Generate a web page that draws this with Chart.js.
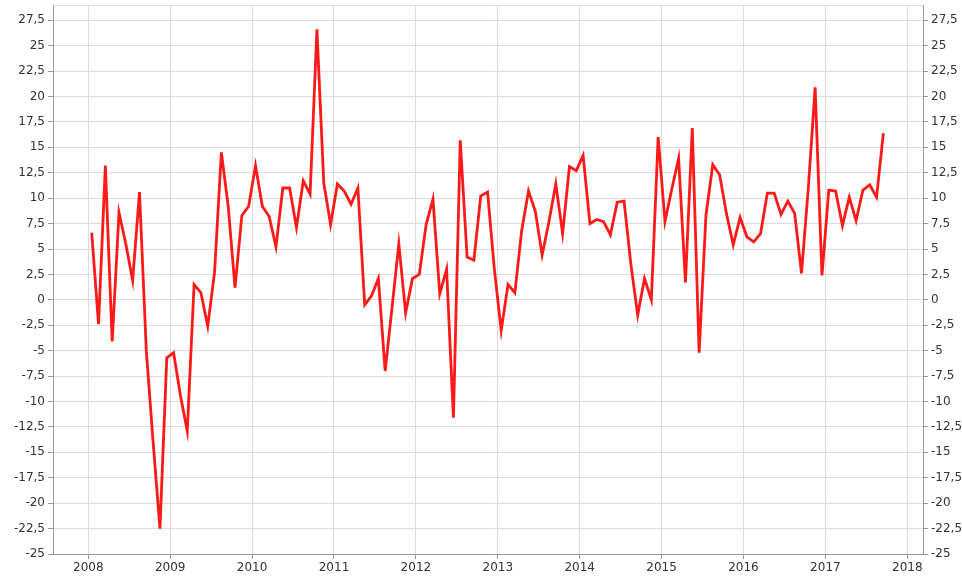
<!DOCTYPE html>
<html>
<head>
<meta charset="utf-8">
<style>
  html, body { margin: 0; padding: 0; background: #ffffff; }
  #chart { display: block; }
</style>
<script src="https://cdn.jsdelivr.net/npm/chart.js@4.4.1/dist/chart.umd.min.js"></script>
</head>
<body>
<canvas id="chart" width="962" height="577"></canvas>
<script>
// Monthly series, Jan 2008 .. Sep 2017 (points sit mid-month)
var startYear = 2008;
var values = [
  6.6, -2.4, 13.2, -4.1, 8.6, 5.5, 1.9, 10.6, -5.0, -14.0, -22.5, -5.7,
  -5.2, -9.4, -12.9, 1.5, 0.7, -2.6, 2.7, 14.5, 9.2, 1.2, 8.3, 9.2,
  13.2, 9.2, 8.2, 5.2, 11.0, 11.0, 7.1, 11.7, 10.4, 26.6, 11.5, 7.4,
  11.4, 10.7, 9.4, 11.0, -0.5, 0.4, 2.1, -7.0, -0.8, 5.5, -1.3, 2.1,
  2.5, 7.4, 9.9, 0.6, 3.0, -11.6, 15.7, 4.2, 3.9, 10.2, 10.6, 3.0,
  -3.0, 1.5, 0.7, 6.8, 10.7, 8.7, 4.4, 7.7, 11.4, 6.5, 13.1, 12.7,
  14.2, 7.5, 7.9, 7.7, 6.4, 9.6, 9.7, 3.5, -1.5, 2.1, 0.0, 16.0,
  7.7, 10.9, 13.9, 1.7, 16.9, -5.2, 8.3, 13.3, 12.3, 8.5, 5.4, 8.1,
  6.2, 5.7, 6.5, 10.5, 10.5, 8.4, 9.7, 8.5, 2.6, 11.0, 20.9, 2.4,
  10.8, 10.7, 7.3, 10.1, 7.8, 10.8, 11.3, 10.1, 16.4
];
var xTicks = [2008, 2009, 2010, 2011, 2012, 2013, 2014, 2015, 2016, 2017, 2018];
var yTicks = [-25, -22.5, -20, -17.5, -15, -12.5, -10, -7.5, -5, -2.5, 0,
              2.5, 5, 7.5, 10, 12.5, 15, 17.5, 20, 22.5, 25, 27.5];

var points = values.map(function (v, i) {
  return { x: startYear + (i + 0.5) / 12, y: v };
});

var Y_MIN = -25, Y_MAX = 29;

function fmt(v) {
  return String(v).replace('.', ',');
}

var tickFont = { family: '"DejaVu Sans", sans-serif', size: 12 };
var labelColor = '#333333';
var gridColor = '#dcdcdc';
var axisColor = '#9a9a9a';

function yTickList(scale) {
  var t = yTicks.map(function (v) { return { value: v }; });
  t.push({ value: Y_MAX });
  scale.ticks = t;
}

function hideTopTick(ctx) {
  return ctx.tick && ctx.tick.value === Y_MAX ? 'rgba(0,0,0,0)' : axisColor;
}

new Chart(document.getElementById('chart'), {
  type: 'line',
  data: {
    datasets: [{
      data: points,
      borderColor: '#ff1a1a',
      borderWidth: 2.8,
      pointRadius: 0,
      tension: 0,
      fill: false
    }]
  },
  options: {
    responsive: false,
    animation: false,
    devicePixelRatio: 1,
    layout: { padding: { top: 5, left: 0, right: 0, bottom: 0 } },
    plugins: { legend: { display: false }, tooltip: { enabled: false } },
    scales: {
      x: {
        type: 'linear',
        min: 2007.569,
        max: 2018.192,
        afterBuildTicks: function (scale) {
          scale.ticks = xTicks.map(function (v) { return { value: v }; });
        },
        afterFit: function (scale) { scale.height = 23; },
        grid: { color: gridColor, lineWidth: 1, tickLength: 5, tickColor: axisColor },
        border: { color: axisColor, width: 1 },
        ticks: {
          color: labelColor, font: tickFont, padding: 2, maxRotation: 0, autoSkip: false,
          callback: function (v) { return String(v); }
        }
      },
      y: {
        position: 'left',
        min: Y_MIN,
        max: Y_MAX,
        afterBuildTicks: yTickList,
        afterFit: function (scale) { scale.width = 53; scale.paddingTop = 0; },
        grid: { color: gridColor, lineWidth: 1, tickLength: 5, tickColor: hideTopTick },
        border: { color: axisColor, width: 1 },
        ticks: {
          color: labelColor, font: tickFont, padding: 3, autoSkip: false,
          callback: function (v) { return v === Y_MAX ? '' : fmt(v); }
        }
      },
      y2: {
        position: 'right',
        min: Y_MIN,
        max: Y_MAX,
        afterBuildTicks: yTickList,
        afterFit: function (scale) { scale.width = 39; scale.paddingTop = 0; },
        grid: { drawOnChartArea: false, tickLength: 5, tickColor: hideTopTick },
        border: { color: axisColor, width: 1 },
        ticks: {
          color: labelColor, font: tickFont, padding: 3, autoSkip: false,
          callback: function (v) { return v === Y_MAX ? '' : fmt(v); }
        }
      }
    }
  }
});
</script>
</body>
</html>
